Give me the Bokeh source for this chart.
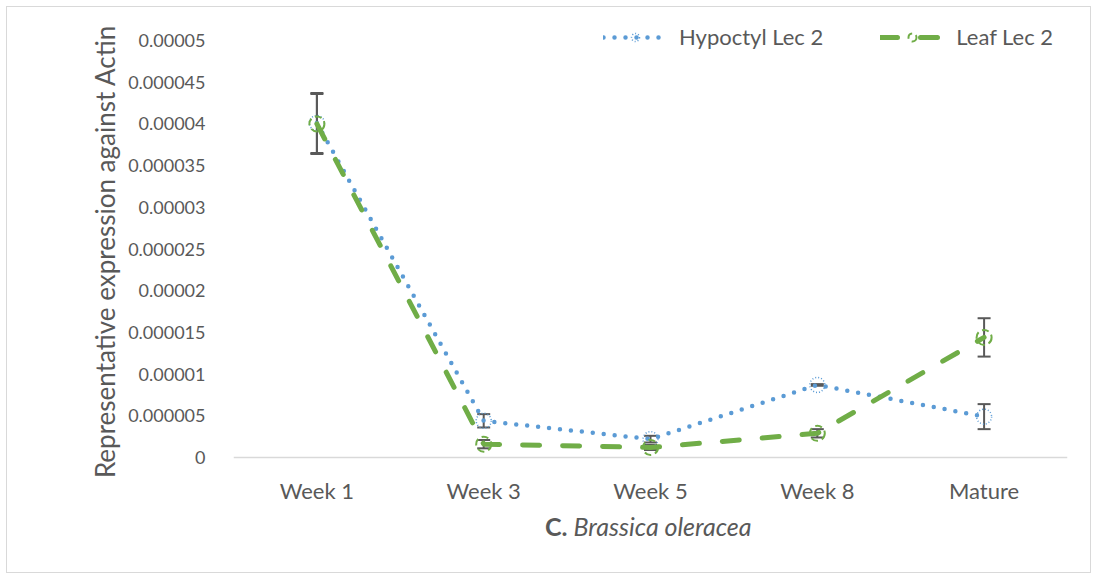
from bokeh.plotting import figure
from bokeh.models import (ColumnDataSource, Whisker, TeeHead, FixedTicker, CustomJSTickFormatter,
                          Legend, LegendItem, Label, Range1d, FactorRange, CategoricalAxis)
from bokeh.embed import file_html
from bokeh.resources import INLINE

categories = ["Week 1", "Week 3", "Week 5", "Week 8", "Mature"]
hypocotyl = [0.0000401, 0.0000044, 0.0000022, 0.0000087, 0.0000049]
hypocotyl_err = [0.0000036, 0.0000008, 0.0000004, 0.0000001, 0.0000015]
leaf = [0.0000400, 0.0000016, 0.0000012, 0.0000029, 0.0000144]
leaf_err = [0.0000036, 0.0000005, 0.0000003, 0.0000005, 0.0000023]
y_ticks = [0, 0.000005, 0.00001, 0.000015, 0.00002, 0.000025, 0.00003, 0.000035, 0.00004, 0.000045, 0.00005]
y_max = 0.00005
y_title = "Representative expression against Actin"

FONT = "Lato"
TXT = "#595959"
BLUE = "#5B9BD5"
GREEN = "#70AD47"

# layout geometry (pixels): value axis 0..y_max spans 417 px; frame extends above/below it
AX_H = 417.0
ABOVE = 26.0
BELOW = 109.0
y_lo = -y_max * BELOW / AX_H
y_hi = y_max * (AX_H + ABOVE) / AX_H

def band(vals, errs, sign):
    return [v + sign * e for v, e in zip(vals, errs)]

src_h = ColumnDataSource(dict(x=categories, y=hypocotyl,
                              lo=band(hypocotyl, hypocotyl_err, -1), hi=band(hypocotyl, hypocotyl_err, 1)))
src_l = ColumnDataSource(dict(x=categories, y=leaf,
                              lo=band(leaf, leaf_err, -1), hi=band(leaf, leaf_err, 1)))

p = figure(width=1085, height=567, x_range=FactorRange(*categories, range_padding=0),
           y_range=Range1d(y_lo, y_hi), output_backend="svg", toolbar_location=None,
           x_axis_location=None,
           min_border_left=226, min_border_right=25, min_border_top=7, min_border_bottom=8)
p.styles = {"border": "1px solid #D9D9D9", "margin-left": "6px", "margin-top": "6px"}
p.outline_line_color = None
p.grid.visible = False

xaxis = CategoricalAxis(fixed_location=0)
p.add_layout(xaxis, "below")

# error bars
for src in (src_h, src_l):
    w = Whisker(source=src, base="x", lower="lo", upper="hi", line_color=TXT, line_width=2,
                upper_head=TeeHead(size=13, line_color=TXT, line_width=2),
                lower_head=TeeHead(size=13, line_color=TXT, line_width=2))
    p.add_layout(w)

rh_line = p.line("x", "y", source=src_h, line_color=BLUE, line_width=4.5, line_dash="0 11", line_cap="round")
rh_mark = p.scatter("x", "y", source=src_h, size=15, fill_color=None, line_color=BLUE, line_width=1.5,
                    line_dash="1 2")
rl_line = p.line("x", "y", source=src_l, line_color=GREEN, line_width=5, line_dash="17 23", line_cap="round")
rl_mark = p.scatter("x", "y", source=src_l, size=15, fill_color=None, line_color=GREEN, line_width=2,
                    line_dash="7 4")

# y axis
p.yaxis.ticker = FixedTicker(ticks=y_ticks)
p.yaxis.formatter = CustomJSTickFormatter(code="""
if (tick == 0) return "0";
return tick.toFixed(6).replace(/0+$/, "");
""")
p.yaxis.axis_line_color = None
p.yaxis.major_tick_line_color = None
p.yaxis.minor_tick_line_color = None
p.yaxis.major_label_standoff = 22
p.yaxis.major_label_text_font = FONT
p.yaxis.major_label_text_font_size = "18px"
p.yaxis.major_label_text_color = TXT
# leading em spaces push the title up so it is centred on the 0..y_max span, not on the taller frame
p.yaxis.axis_label = "\u2003\u2003\u2003\u2003" + y_title
p.yaxis.axis_label_text_font = FONT
p.yaxis.axis_label_text_font_style = "normal"
p.yaxis.axis_label_text_font_size = "26px"
p.yaxis.axis_label_text_color = TXT
p.yaxis.axis_label_standoff = 4

# x axis
xaxis.axis_line_color = "#D9D9D9"
xaxis.axis_line_width = 1.5
xaxis.major_tick_line_color = None
xaxis.minor_tick_line_color = None
xaxis.major_label_standoff = 13
xaxis.major_label_text_font = FONT
xaxis.major_label_text_font_size = "22px"
xaxis.major_label_text_color = TXT

# x-axis title with mixed style (centred under the middle category)
mid_x = len(categories) / 2
title_y = -y_max * 68 / AX_H
p.add_layout(Label(x=mid_x, y=title_y, x_offset=-83, text="C.", text_font=FONT,
                   text_font_style="bold", text_font_size="25px", text_color=TXT,
                   text_align="right", text_baseline="middle"))
p.add_layout(Label(x=mid_x, y=title_y, x_offset=-77, text="Brassica oleracea",
                   text_font=FONT, text_font_style="italic", text_font_size="25px", text_color=TXT,
                   text_align="left", text_baseline="middle"))

legend = Legend(items=[LegendItem(label="Hypoctyl Lec 2", renderers=[rh_line, rh_mark]),
                       LegendItem(label="Leaf Lec 2", renderers=[rl_line, rl_mark])],
                location=(370, 516), orientation="horizontal", glyph_width=64, glyph_height=20,
                label_height=20, label_standoff=12, spacing=57, padding=0, margin=0,
                background_fill_alpha=0, border_line_color=None,
                label_text_font=FONT, label_text_font_size="22px", label_text_color=TXT)
p.add_layout(legend, "center")

open("out.html", "w").write(file_html(p, INLINE))
